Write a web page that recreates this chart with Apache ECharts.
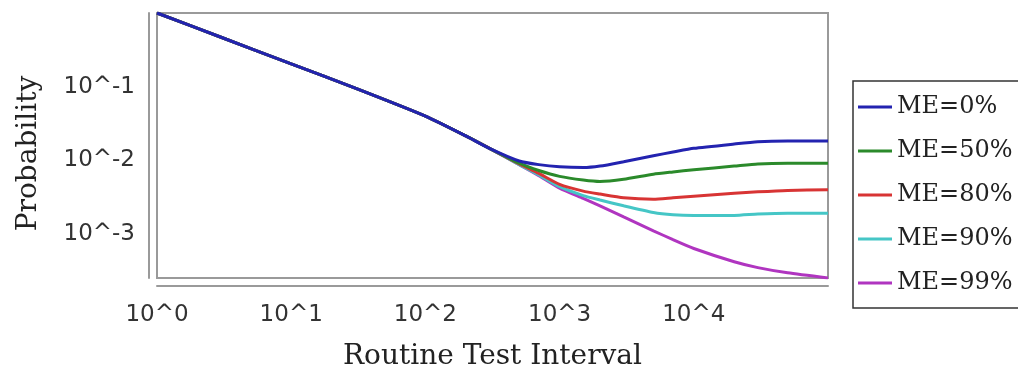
<!DOCTYPE html>
<html>
<head>
<meta charset="utf-8">
<script src="https://cdn.jsdelivr.net/npm/echarts@6/dist/echarts.min.js"></script>
<style>
  html, body { margin: 0; padding: 0; background: #fff; }
  #chart { width: 1018px; height: 370px; }
</style>
</head>
<body>
<div id="chart"></div>
<script>
// routine test interval (x, log axis)
const intervals = [1, 3, 10, 30, 100, 200, 300, 500, 700, 1000, 1500, 2000, 3000, 5000, 7000, 10000, 20000, 30000, 50000, 100000];

// probability for each ME level
const me0  = [1.0, 0.468, 0.204, 0.0955, 0.0398, 0.0214, 0.0145, 0.00977, 0.00871, 0.00813, 0.00794, 0.00832, 0.00955, 0.0115, 0.0129, 0.0145, 0.0166, 0.0178, 0.0182, 0.0182];
const me50 = [1.0, 0.468, 0.204, 0.0955, 0.0398, 0.0214, 0.0145, 0.00912, 0.00724, 0.00603, 0.00537, 0.00513, 0.00550, 0.00646, 0.00692, 0.00741, 0.00832, 0.00891, 0.00912, 0.00912];
const me80 = [1.0, 0.468, 0.204, 0.0955, 0.0398, 0.0214, 0.0145, 0.00891, 0.00661, 0.00468, 0.00380, 0.00347, 0.00309, 0.00295, 0.00309, 0.00324, 0.00355, 0.00372, 0.00389, 0.00398];
const me90 = [1.0, 0.468, 0.204, 0.0955, 0.0398, 0.0214, 0.0145, 0.00871, 0.00631, 0.00437, 0.00331, 0.00288, 0.00240, 0.00195, 0.00182, 0.00178, 0.00178, 0.00186, 0.00191, 0.00191];
const me99 = [1.0, 0.468, 0.204, 0.0955, 0.0398, 0.0214, 0.0145, 0.00871, 0.00617, 0.00417, 0.00302, 0.00240, 0.00170, 0.00110, 0.000832, 0.000631, 0.000417, 0.000347, 0.000295, 0.000251];

const seriesNames = ["ME=0%", "ME=50%", "ME=80%", "ME=90%", "ME=99%"];
const seriesValues = [me0, me50, me80, me90, me99];
const seriesColors = ["#2323b0", "#2b8a2b", "#d83434", "#45c6c6", "#b035c0"];

const powLabel = (v) => {
  const e = Math.log10(v);
  const r = Math.round(e);
  return Math.abs(e - r) < 1e-6 ? "10^" + r : "";
};

const chart = echarts.init(document.getElementById("chart"));
chart.setOption({
  animation: false,
  grid: {
    left: 157, right: 190, top: 13, bottom: 92,
    show: true, borderColor: "#9a9a9a", borderWidth: 2,
    containLabel: false, outerBoundsMode: "none",
  },
  legend: {
    data: seriesNames,
    orient: "vertical",
    left: 853, top: 81,
    icon: "rect",
    itemWidth: 34, itemHeight: 3,
    itemGap: 20,
    padding: [14, 30, 13, 5],
    borderColor: "#333", borderWidth: 1.5,
    textStyle: { fontFamily: "DejaVu Serif", fontSize: 24, lineHeight: 24, color: "#222" },
  },
  xAxis: {
    type: "log", logBase: 10, min: 1, max: 100000,
    name: "Routine Test Interval",
    nameLocation: "middle", nameGap: 57,
    nameTextStyle: { fontFamily: "DejaVu Serif", fontSize: 28, color: "#222" },
    offset: 8,
    axisLine: { lineStyle: { color: "#9a9a9a", width: 2 } },
    axisTick: { show: false },
    splitLine: { show: false },
    minorTick: { show: false },
    axisLabel: {
      formatter: powLabel, showMaxLabel: false, margin: 18,
      fontFamily: "DejaVu Sans", fontSize: 23, color: "#333",
    },
  },
  yAxis: {
    type: "log", logBase: 10, min: "dataMin", max: 1,
    name: "Probability",
    nameLocation: "middle", nameGap: 106,
    nameTextStyle: { fontFamily: "DejaVu Serif", fontSize: 28, color: "#222", padding: [0, 16, 0, 0] },
    offset: 8,
    axisLine: { lineStyle: { color: "#9a9a9a", width: 2 } },
    axisTick: { show: false },
    splitLine: { show: false },
    axisLabel: {
      formatter: powLabel, showMaxLabel: false, showMinLabel: false, margin: 14,
      fontFamily: "DejaVu Sans", fontSize: 23, color: "#333",
    },
  },
  series: seriesNames.map((name, i) => ({
    name,
    type: "line",
    data: intervals.map((x, j) => [x, seriesValues[i][j]]),
    showSymbol: false,
    smooth: 0.2,
    z: 10 - i,
    color: seriesColors[i],
    lineStyle: { width: 3, color: seriesColors[i] },
  })),
});
</script>
</body>
</html>
